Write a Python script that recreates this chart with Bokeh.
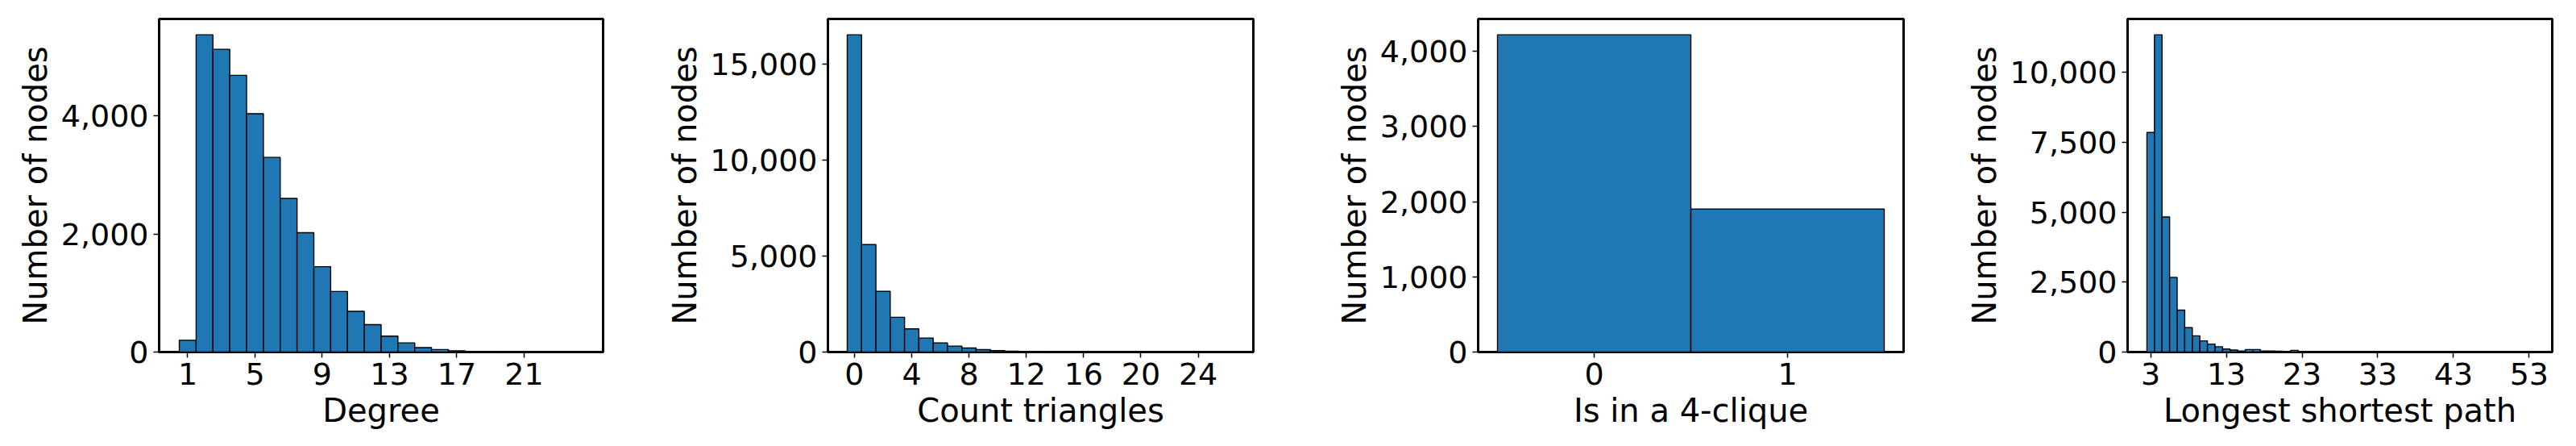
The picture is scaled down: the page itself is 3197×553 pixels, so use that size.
import numpy as np
from bokeh.plotting import figure
from bokeh.layouts import row
from bokeh.models import FixedTicker, NumeralTickFormatter, Range1d
from bokeh.embed import file_html
from bokeh.resources import INLINE

# ---------------- data ----------------
degree_values = list(range(1, 25))
degree_counts = [200, 5370, 5125, 4685, 4035, 3295, 2600, 2020, 1445, 1025, 690, 465,
                 270, 155, 75, 43, 20, 10, 6, 3, 2, 1, 1, 1]
degree_xticks = [1, 5, 9, 13, 17, 21]
degree_yticks = [0, 2000, 4000]

triangle_values = list(range(0, 27))
triangle_counts = [16510, 5590, 3160, 1810, 1205, 730, 475, 310, 210, 128, 72, 44, 26,
                   16, 10, 6, 4, 3, 2, 1, 1, 1, 0, 1, 0, 0, 1]
triangle_xticks = [0, 4, 8, 12, 16, 20, 24]
triangle_yticks = [0, 5000, 10000, 15000]

clique_values = [0, 1]
clique_counts = [4220, 1902]
clique_xticks = [0, 1]
clique_yticks = [0, 1000, 2000, 3000, 4000]

path_values = list(range(3, 54))
path_counts = [7850, 11340, 4830, 2670, 1500, 870, 580, 400, 285, 190, 110, 70, 40,
               90, 90, 40, 35, 30, 15, 60, 15, 10, 10, 8, 6, 5, 3, 2, 1, 1,
               0, 1, 0, 0, 1, 0, 0, 0, 1, 0, 0, 0, 0, 0, 0, 0, 0, 0, 0, 0, 1]
path_xticks = [3, 13, 23, 33, 43, 53]
path_yticks = [0, 2500, 5000, 7500, 10000]

ylabel = "Number of nodes"
xlabels = ["Degree", "Count triangles", "Is in a 4-clique", "Longest shortest path"]

FONT = "DejaVu Sans"
BAR_COLOR = "#1f77b4"
H = 551
TOP = 23
FRAME_H = 413


def make_panel(xs, counts, xlabel, xticks, yticks, width, bl, br):
    xs = np.array(xs, dtype=float)
    counts = np.array(counts, dtype=float)
    lo = xs.min() - 0.5
    hi = xs.max() + 0.5
    span = hi - lo
    p = figure(width=width, height=H,
               x_range=Range1d(lo - 0.05 * span, hi + 0.05 * span),
               y_range=Range1d(0, counts.max() * 1.05),
               output_backend="svg", toolbar_location=None,
               min_border_left=bl, min_border_right=br,
               min_border_top=TOP, min_border_bottom=H - TOP - FRAME_H)
    p.vbar(x=xs, top=counts, bottom=0, width=1.0,
           fill_color=BAR_COLOR, line_color="black", line_width=1.4)
    p.grid.visible = False
    p.outline_line_color = "black"
    p.outline_line_width = 3
    p.background_fill_color = "white"
    p.border_fill_color = "white"

    p.xaxis.ticker = FixedTicker(ticks=xticks)
    p.yaxis.ticker = FixedTicker(ticks=yticks)
    p.yaxis.formatter = NumeralTickFormatter(format="0,0")
    p.xaxis.axis_label = xlabel
    p.yaxis.axis_label = ylabel
    for ax in (p.xaxis[0], p.yaxis[0]):
        ax.axis_line_color = None
        ax.major_tick_in = 0
        ax.major_tick_out = 7
        ax.major_tick_line_color = "black"
        ax.major_tick_line_width = 1.5
        ax.minor_tick_line_color = None
        ax.major_label_text_font = FONT
        ax.major_label_text_font_size = "38px"
        ax.major_label_text_color = "black"
        ax.axis_label_text_font = FONT
        ax.axis_label_text_font_size = "40px"
        ax.axis_label_text_font_style = "normal"
        ax.axis_label_text_color = "black"
        ax.major_label_standoff = 6
        ax.axis_label_standoff = 6
    return p


p1 = make_panel(degree_values, degree_counts, xlabels[0], degree_xticks, degree_yticks, 800, 197, 52)
p2 = make_panel(triangle_values, triangle_counts, xlabels[1], triangle_xticks, triangle_yticks, 810, 227, 55)
p3 = make_panel(clique_values, clique_counts, xlabels[2], clique_xticks, clique_yticks, 810, 224, 58)
p4 = make_panel(path_values, path_counts, xlabels[3], path_xticks, path_yticks, 775, 220, 28)

layout = row(p1, p2, p3, p4)
open("out.html", "w").write(file_html(layout, INLINE))
